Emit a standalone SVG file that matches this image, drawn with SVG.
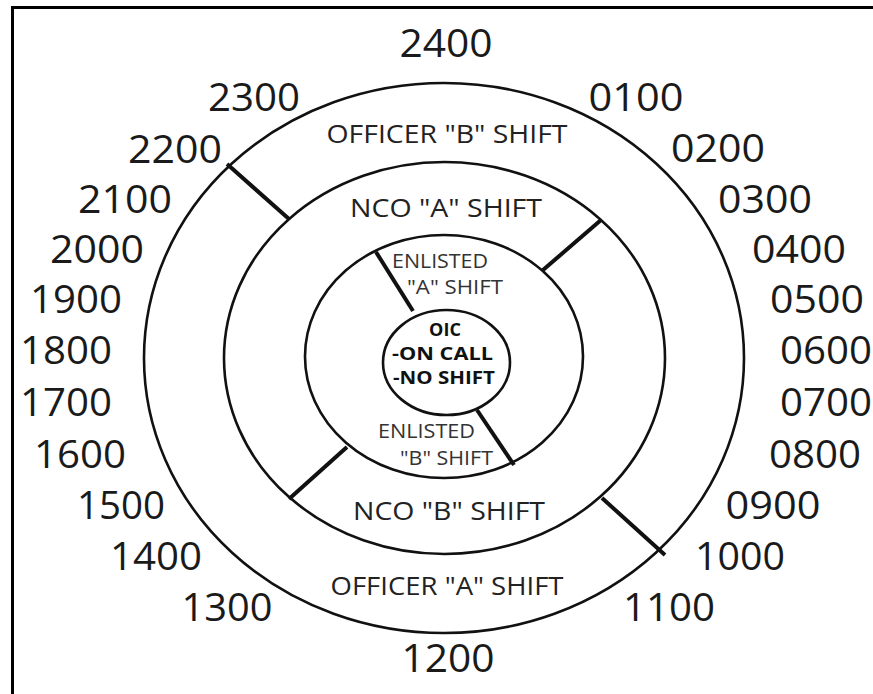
<svg xmlns="http://www.w3.org/2000/svg" width="873" height="694" viewBox="0 0 873 694">
<style>
.ring{fill:none;stroke:#111;stroke-width:2.6}
.div{stroke:#111;stroke-width:4;stroke-linecap:butt}
.num{font-family:"Open Sans","Liberation Sans",sans-serif;font-size:38px;fill:#1a1a1a;text-anchor:middle}
.lbl{font-family:"Open Sans","Liberation Sans",sans-serif;font-size:25px;fill:#222;text-anchor:middle}
.sm{font-family:"Open Sans","Liberation Sans",sans-serif;font-size:20px;fill:#333;text-anchor:middle}
.b{font-family:"Open Sans","Liberation Sans",sans-serif;font-size:18px;font-weight:bold;fill:#111;text-anchor:middle}
</style>
<rect width="873" height="694" fill="#fff"/>
<g id="frame">
<line x1="11" y1="7.5" x2="873" y2="7.5" stroke="#000" stroke-width="3"/>
<line x1="12.5" y1="6" x2="12.5" y2="694" stroke="#000" stroke-width="3"/>
</g>
<g id="outer-ring">
<ellipse class="ring" cx="444" cy="358" rx="300" ry="275"/>
<text class="lbl" x="447" y="143" textLength="241" lengthAdjust="spacingAndGlyphs">OFFICER "B" SHIFT</text>
<text class="lbl" x="447" y="595" textLength="233" lengthAdjust="spacingAndGlyphs">OFFICER "A" SHIFT</text>
</g>
<g id="middle-ring">
<ellipse class="ring" cx="444.5" cy="358" rx="220.5" ry="196"/>
<text class="lbl" x="446" y="217" textLength="192" lengthAdjust="spacingAndGlyphs">NCO "A" SHIFT</text>
<text class="lbl" x="449" y="520" textLength="192" lengthAdjust="spacingAndGlyphs">NCO "B" SHIFT</text>
</g>
<g id="inner-ring">
<ellipse class="ring" cx="444" cy="356.5" rx="139" ry="121.5"/>
<text class="sm" x="440" y="268" textLength="96" lengthAdjust="spacingAndGlyphs">ENLISTED</text>
<text class="sm" x="455" y="294" textLength="96" lengthAdjust="spacingAndGlyphs">"A" SHIFT</text>
<text class="sm" x="426.5" y="438" textLength="97" lengthAdjust="spacingAndGlyphs">ENLISTED</text>
<text class="sm" x="446.5" y="465" textLength="93" lengthAdjust="spacingAndGlyphs">"B" SHIFT</text>
</g>
<g id="oic">
<ellipse class="ring" cx="446.5" cy="362.5" rx="63.5" ry="52.5"/>
<text class="b" x="445" y="336">OIC</text>
<text class="b" x="442.5" y="360" textLength="101" lengthAdjust="spacingAndGlyphs">-ON CALL</text>
<text class="b" x="444" y="384" textLength="102" lengthAdjust="spacingAndGlyphs">-NO SHIFT</text>
</g>
<g id="connectors">
<line class="div" x1="227" y1="164" x2="289" y2="219"/>
<line class="div" x1="601" y1="220" x2="543" y2="270"/>
<line class="div" x1="376" y1="252" x2="413" y2="311"/>
<line class="div" x1="477" y1="410" x2="514" y2="465"/>
<line class="div" x1="289" y1="499" x2="347" y2="447"/>
<line class="div" x1="602" y1="498" x2="665" y2="555"/>
</g>
<g id="hours">
<text class="num" x="446" y="57" textLength="93" lengthAdjust="spacingAndGlyphs">2400</text>
<text class="num" x="254" y="111" textLength="92" lengthAdjust="spacingAndGlyphs">2300</text>
<text class="num" x="636" y="111" textLength="95" lengthAdjust="spacingAndGlyphs">0100</text>
<text class="num" x="175" y="163" textLength="94" lengthAdjust="spacingAndGlyphs">2200</text>
<text class="num" x="718" y="162" textLength="94" lengthAdjust="spacingAndGlyphs">0200</text>
<text class="num" x="125" y="213" textLength="94" lengthAdjust="spacingAndGlyphs">2100</text>
<text class="num" x="765" y="213" textLength="94" lengthAdjust="spacingAndGlyphs">0300</text>
<text class="num" x="97" y="263" textLength="94" lengthAdjust="spacingAndGlyphs">2000</text>
<text class="num" x="799" y="263" textLength="94" lengthAdjust="spacingAndGlyphs">0400</text>
<text class="num" x="76" y="313" textLength="92" lengthAdjust="spacingAndGlyphs">1900</text>
<text class="num" x="817" y="313" textLength="94" lengthAdjust="spacingAndGlyphs">0500</text>
<text class="num" x="66" y="364" textLength="92" lengthAdjust="spacingAndGlyphs">1800</text>
<text class="num" x="826" y="364" textLength="92" lengthAdjust="spacingAndGlyphs">0600</text>
<text class="num" x="66" y="416" textLength="92" lengthAdjust="spacingAndGlyphs">1700</text>
<text class="num" x="826" y="416" textLength="92" lengthAdjust="spacingAndGlyphs">0700</text>
<text class="num" x="80" y="468" textLength="92" lengthAdjust="spacingAndGlyphs">1600</text>
<text class="num" x="815" y="468" textLength="92" lengthAdjust="spacingAndGlyphs">0800</text>
<text class="num" x="121" y="519" textLength="88" lengthAdjust="spacingAndGlyphs">1500</text>
<text class="num" x="773" y="519" textLength="95" lengthAdjust="spacingAndGlyphs">0900</text>
<text class="num" x="156" y="570" textLength="92" lengthAdjust="spacingAndGlyphs">1400</text>
<text class="num" x="740" y="570" textLength="90" lengthAdjust="spacingAndGlyphs">1000</text>
<text class="num" x="227" y="621" textLength="91" lengthAdjust="spacingAndGlyphs">1300</text>
<text class="num" x="669" y="621" textLength="92" lengthAdjust="spacingAndGlyphs">1100</text>
<text class="num" x="448" y="672" textLength="93" lengthAdjust="spacingAndGlyphs">1200</text>
</g>
</svg>
